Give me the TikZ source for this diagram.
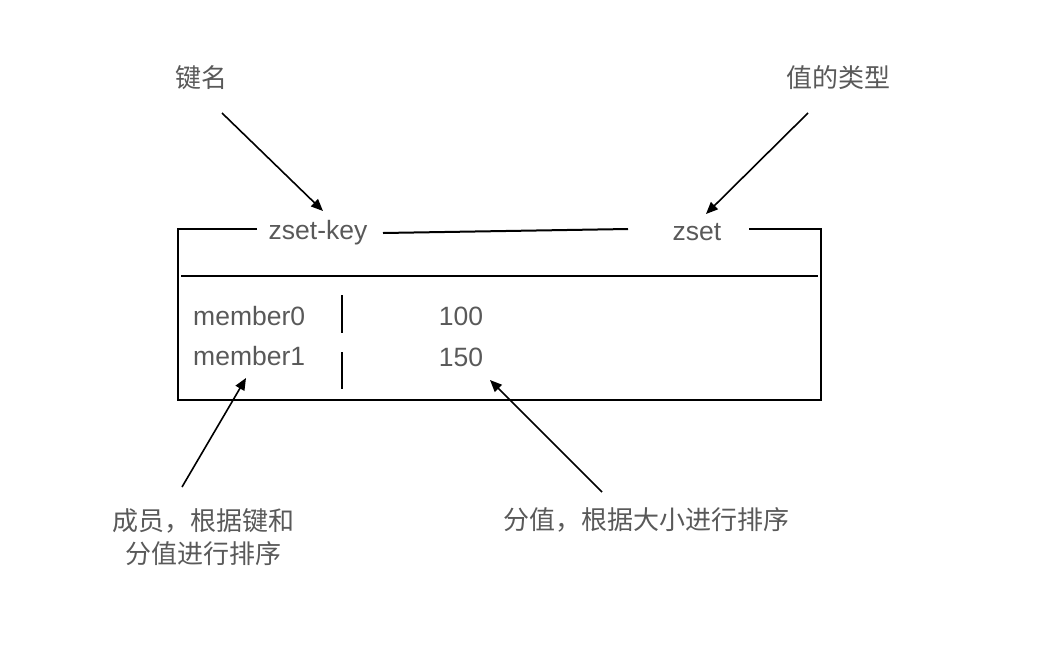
\documentclass[tikz,border=0pt]{standalone}
\usepackage{fontspec}
\setmainfont{Liberation Sans}
\newfontfamily\cjk{Noto Sans CJK SC}
\usetikzlibrary{arrows.meta}
\definecolor{txt}{HTML}{595959}
\begin{document}
\begin{tikzpicture}[x=1pt,y=-1pt,
  lbl/.style={text=txt,font=\fontsize{26.5}{30}\selectfont,inner sep=0pt},
  cn/.style={text=txt,font=\cjk\fontsize{26}{33}\selectfont,inner sep=0pt,align=center},
  ln/.style={line width=2pt,black},
  arr/.style={line width=1.6pt,black,-{Triangle[length=12pt,width=10pt]}}]
\useasboundingbox (0,0) rectangle (1042,646);
% box
\draw[ln] (257,229) -- (178,229) -- (178,400) -- (821,400) -- (821,229) -- (749,229);
\draw[ln] (383,233) -- (628,229);
\draw[ln] (181,276) -- (818,276);
\draw[ln] (342,295) -- (342,333);
\draw[ln] (342,352) -- (342,389);
% texts
\node[lbl,anchor=base] (zk) at (318,239) {zset-key};
\node[lbl,anchor=base] (zs) at (697,240) {zset};
\node[lbl,anchor=base west] (m0) at (193,325) {member0};
\node[lbl,anchor=base west] (m1) at (193,365) {member1};
\node[lbl,anchor=base] (v0) at (461,325) {100};
\node[lbl,anchor=base] (v1) at (461,366) {150};
\node[cn] (kn) at (201,78) {键名};
\node[cn] (vt) at (838,78) {值的类型};
\node[cn] (mc) at (203,537) {成员，根据键和\\分值进行排序};
\node[cn] (sc) at (646,520) {分值，根据大小进行排序};
% arrow endpoints
\coordinate (a1s) at (222,113); \coordinate (a1e) at (323,211);
\coordinate (a2s) at (808,113); \coordinate (a2e) at (706,214);
\coordinate (a3s) at (182,487); \coordinate (a3e) at (246,378);
\coordinate (a4s) at (602,492); \coordinate (a4e) at (490,380);
\draw[arr] (a1s) -- (a1e);
\draw[arr] (a2s) -- (a2e);
\draw[arr] (a3s) -- (a3e);
\draw[arr] (a4s) -- (a4e);
\end{tikzpicture}
\end{document}
